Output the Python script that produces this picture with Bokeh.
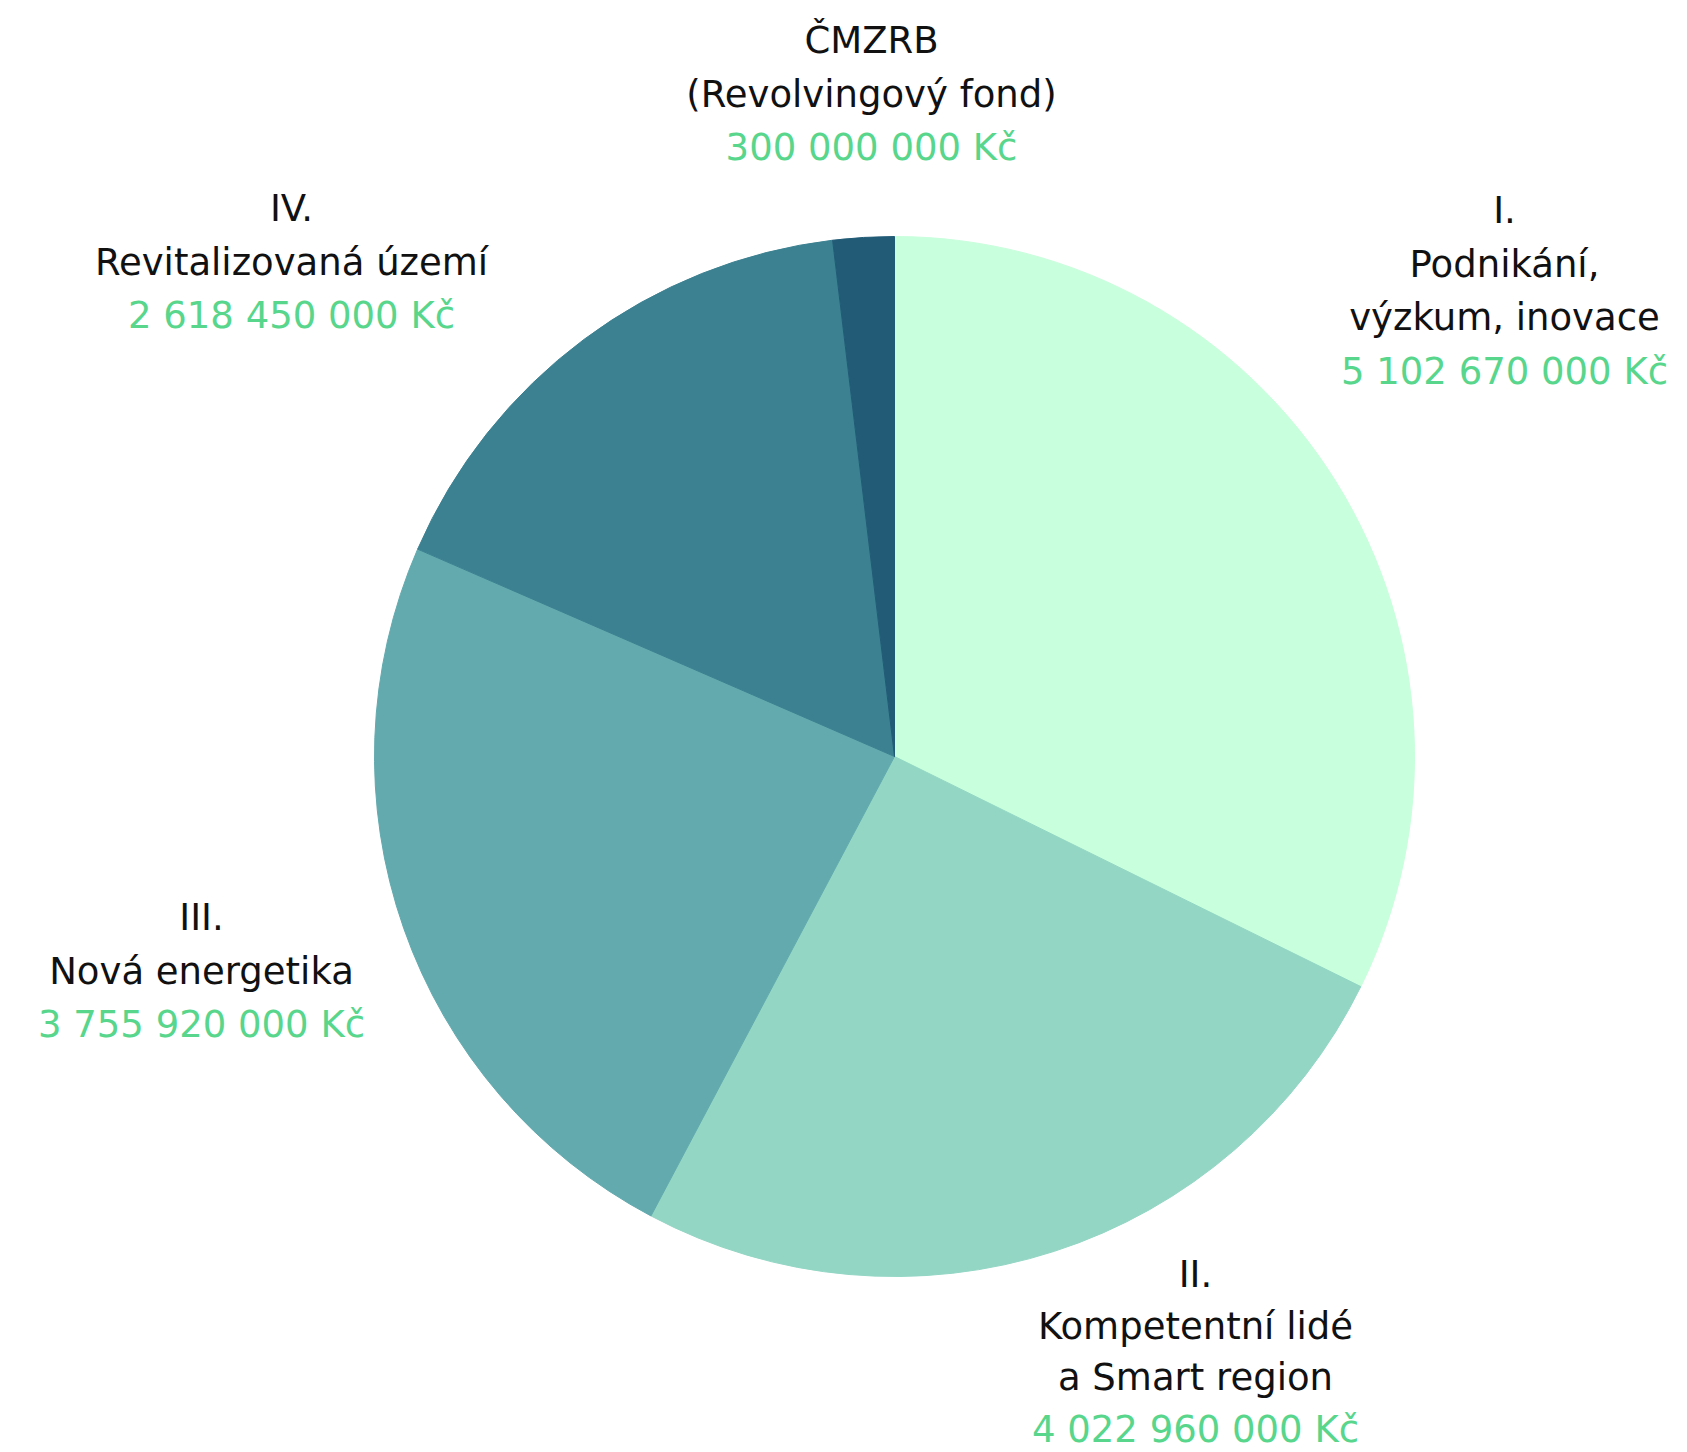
import math
from bokeh.plotting import figure
from bokeh.models import Range1d, ColumnDataSource
from bokeh.embed import file_html
from bokeh.resources import INLINE
from bokeh.core.properties import value

# data
categories = ["I. Podnikání, výzkum, inovace", "II. Kompetentní lidé a Smart region",
              "III. Nová energetika", "IV. Revitalizovaná území", "ČMZRB (Revolvingový fond)"]
amounts = [5102670000, 4022960000, 3755920000, 2618450000, 300000000]
colors = ["#C8FFDC", "#93D6C4", "#62AAAE", "#3C8191", "#225B76"]

label_lines = [
    ["I.", "Podnikání,", "výzkum, inovace"],
    ["II.", "Kompetentní lidé", "a Smart region"],
    ["III.", "Nová energetika"],
    ["IV.", "Revitalizovaná území"],
    ["ČMZRB", "(Revolvingový fond)"],
]
amount_labels = ["5 102 670 000 Kč", "4 022 960 000 Kč", "3 755 920 000 Kč",
                 "2 618 450 000 Kč", "300 000 000 Kč"]

# layout (reference pixel coords)
W, H = 1687, 1452
CX, CY, R = 894, 756, 520
label_anchor = [(1504, 210), (1195, 1274), (201, 917), (291, 208), (871, 40)]
line_heights = [53.5, 51.5, 53.5, 53.5, 53.5]

p = figure(width=W, height=H, output_backend="svg", toolbar_location=None,
           x_range=Range1d(0, W), y_range=Range1d(0, H), min_border=0)
p.axis.visible = False
p.grid.visible = False
p.outline_line_color = None
p.background_fill_color = "white"

total = sum(amounts)
starts, ends = [], []
cum = 0.0
for a in amounts:
    starts.append(math.pi / 2 - cum / total * 2 * math.pi)
    cum += a
    ends.append(math.pi / 2 - cum / total * 2 * math.pi)

src = ColumnDataSource(dict(x=[CX] * len(amounts), y=[H - CY] * len(amounts),
                            start=starts, end=ends, color=colors))
p.wedge(x="x", y="y", radius=R, start_angle="start", end_angle="end",
        direction="clock", fill_color="color", line_color="color", line_width=1, source=src)

tx, ty, tt = [], [], []
gx, gy, gt = [], [], []
for (ax, ay), lh, lines, amt in zip(label_anchor, line_heights, label_lines, amount_labels):
    for i, ln in enumerate(lines):
        tx.append(ax); ty.append(H - (ay + i * lh)); tt.append(ln)
    gx.append(ax); gy.append(H - (ay + len(lines) * lh)); gt.append(amt)

FONT = value("DejaVu Sans")
p.text(x=tx, y=ty, text=tt, text_align="center", text_baseline="middle",
       text_font=FONT, text_font_size="37px", text_color="#111111")
p.text(x=gx, y=gy, text=gt, text_align="center", text_baseline="middle",
       text_font=FONT, text_font_size="37px", text_color="#57D68C")

open("out.html", "w").write(file_html(p, INLINE))
